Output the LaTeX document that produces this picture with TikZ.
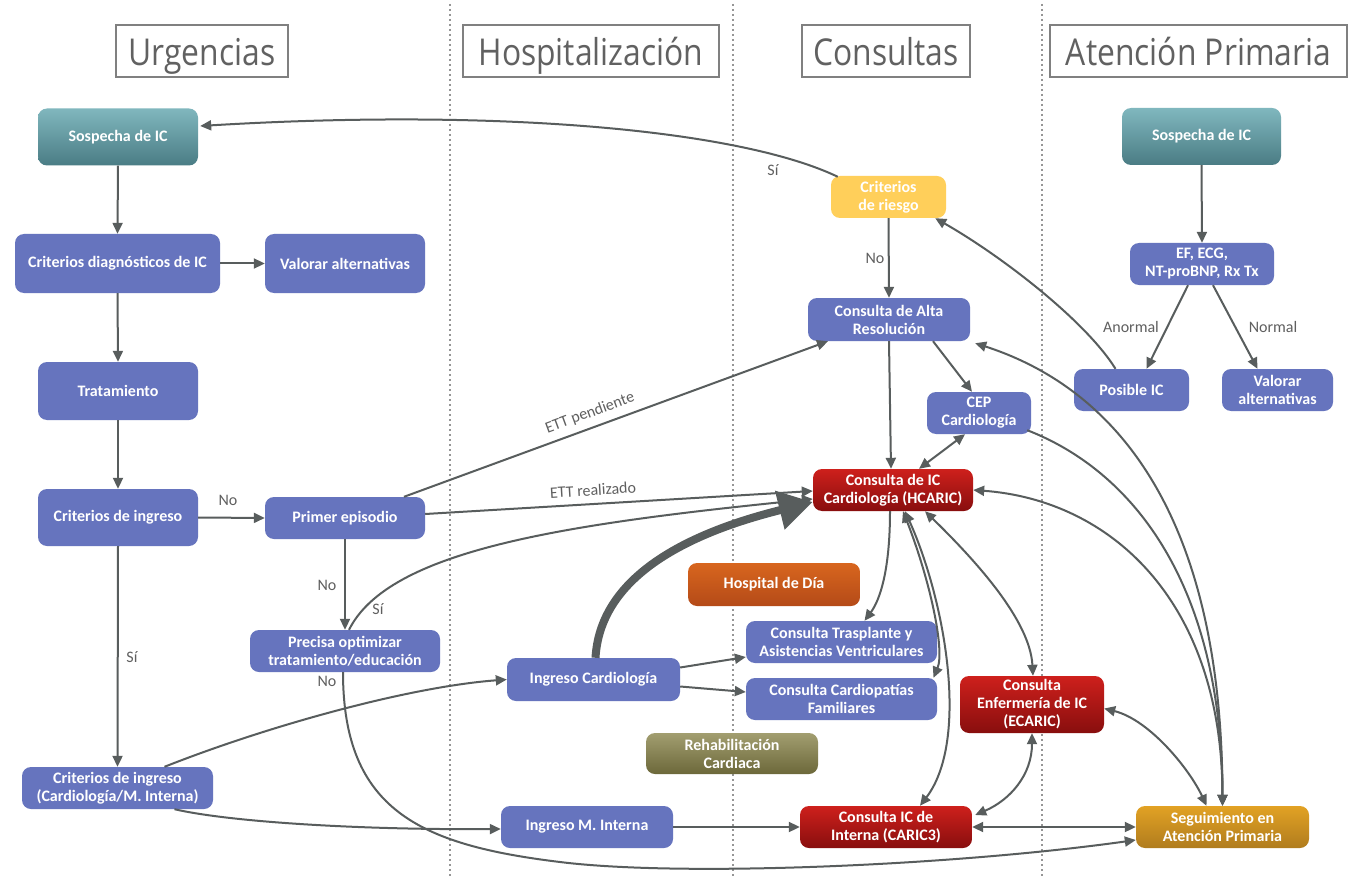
\documentclass[tikz,border=0pt]{standalone}
\usepackage{fontspec}
\setmainfont{Carlito}
\newfontfamily\hdrfont[FakeStretch=0.86]{Open Sans}
\usetikzlibrary{arrows.meta,calc}
\definecolor{nblue}{RGB}{102,116,190}
\definecolor{cgray}{RGB}{88,93,93}
\definecolor{lgray}{RGB}{95,95,95}
\definecolor{tealT}{RGB}{128,183,190}
\definecolor{tealB}{RGB}{74,124,132}
\definecolor{redT}{RGB}{206,32,28}
\definecolor{redB}{RGB}{136,14,14}
\definecolor{oraT}{RGB}{216,102,30}
\definecolor{oraB}{RGB}{180,74,24}
\definecolor{oliT}{RGB}{162,158,112}
\definecolor{oliB}{RGB}{108,104,58}
\definecolor{yel}{RGB}{255,207,90}
\definecolor{golT}{RGB}{226,162,36}
\definecolor{golB}{RGB}{176,124,30}
\definecolor{hdrgray}{RGB}{128,128,128}
\definecolor{dotgray}{RGB}{150,150,150}
\tikzset{
  boxbase/.style={rounded corners=9pt, text=white, align=center, inner sep=2pt,
    font=\bfseries\fontsize{16}{18}\selectfont},
  bbox/.style={boxbase, fill=nblue},
  tbox/.style={boxbase, top color=tealT, bottom color=tealB},
  rbox/.style={boxbase, top color=redT, bottom color=redB},
  obox/.style={boxbase, top color=oraT, bottom color=oraB},
  olbox/.style={boxbase, top color=oliT, bottom color=oliB},
  ybox/.style={boxbase, fill=yel},
  gbox/.style={boxbase, top color=golT, bottom color=golB},
  hdr/.style={draw=hdrgray, line width=2.5pt, fill=white, text=black!62,
    font=\hdrfont\fontsize{37}{40}\selectfont, minimum height=52pt, inner sep=0pt,
    text height=32pt, text depth=2pt},
  arr/.style={draw=cgray, line width=2pt, -{Triangle[length=11pt,width=10pt]}},
  darr/.style={draw=cgray, line width=2pt, {Triangle[length=11pt,width=10pt]}-{Triangle[length=11pt,width=10pt]}},
  lbl/.style={text=lgray, font=\fontsize{16}{18}\selectfont, inner sep=1pt},
  sepline/.style={draw=dotgray, line width=1.6pt, dash pattern=on 1.6pt off 3.4pt}
}
\begin{document}
\begin{tikzpicture}[x=1pt,y=-1pt]
\useasboundingbox[fill=white] (0,0) rectangle (1370,877);
% lane separators
\draw[sepline] (450,4) -- (450,877);
\draw[sepline] (733,4) -- (733,877);
\draw[sepline] (1042,4) -- (1042,877);
% headers
\node[hdr, minimum width=172pt] (hurg) at (202,51) {Urgencias};
\node[hdr, minimum width=256pt] (hhosp) at (591,51) {Hospitalización};
\node[hdr, minimum width=168pt] (hcons) at (886,51) {Consultas};
\node[hdr, minimum width=297pt] (hap) at (1198.5,51) {Atención Primaria};
% Urgencias
\node[tbox, minimum width=160pt, minimum height=57pt] (sosp) at (118,137) {Sospecha de IC};
\node[bbox, minimum width=205pt, minimum height=59pt] (crit) at (117.5,263.5) {Criterios diagnósticos de IC};
\node[bbox, minimum width=160pt, minimum height=59pt] (valor) at (345,263.5) {Valorar alternativas};
\node[bbox, minimum width=160pt, minimum height=58pt] (trat) at (118,391) {Tratamiento};
\node[bbox, minimum width=160pt, minimum height=57pt] (ingr) at (118,517.5) {Criterios de ingreso};
\node[bbox, minimum width=160pt, minimum height=42pt] (primer) at (345,518) {Primer episodio};
\node[bbox, minimum width=190pt, minimum height=42pt] (precisa) at (345,651) {Precisa optimizar\\tratamiento/educación};
\node[bbox, minimum width=191pt, minimum height=42pt] (ingrCM) at (117.5,788) {Criterios de ingreso\\(Cardiología/M. Interna)};
% Hospitalizacion
\node[bbox, minimum width=173pt, minimum height=43pt] (ingrCard) at (593.5,679.5) {Ingreso Cardiología};
\node[bbox, minimum width=172pt, minimum height=42pt] (ingrMI) at (587,827) {Ingreso M. Interna};
\node[obox, minimum width=172pt, minimum height=43pt] (hdia) at (774,584.5) {Hospital de Día};
\node[olbox, minimum width=172pt, minimum height=41pt] (rehab) at (732,753.5) {Rehabilitación\\Cardiaca};
% Consultas
\node[bbox, minimum width=191pt, minimum height=42pt] (tras) at (841.5,642) {Consulta Trasplante y\\Asistencias Ventriculares};
\node[bbox, minimum width=191pt, minimum height=42pt] (card) at (841.5,699) {Consulta Cardiopatías\\Familiares};
\node[ybox, minimum width=115pt, minimum height=42pt] (riesgo) at (888.5,197) {Criterios\\de riesgo};
\node[bbox, minimum width=162pt, minimum height=43pt] (alta) at (889,319.5) {Consulta de Alta\\Resolución};
\node[bbox, minimum width=104pt, minimum height=42pt] (cep) at (979,413) {CEP\\Cardiología};
\node[rbox, minimum width=160pt, minimum height=42pt] (hcaric) at (893,490) {Consulta de IC\\Cardiología (HCARIC)};
\node[rbox, minimum width=144pt, minimum height=57pt] (ecaric) at (1032,704.5) {Consulta\\Enfermería de IC\\(ECARIC)};
\node[rbox, minimum width=172pt, minimum height=42pt] (caric3) at (886,827) {Consulta IC de\\Interna (CARIC3)};
% Atencion Primaria
\node[gbox, minimum width=173pt, minimum height=42pt] (seg) at (1222.5,827) {Seguimiento en\\Atención Primaria};
\node[tbox, minimum width=159pt, minimum height=57pt] (apsosp) at (1201.5,136.5) {Sospecha de IC};
\node[bbox, minimum width=144pt, minimum height=42pt] (ef) at (1202,264) {EF, ECG,\\NT-proBNP, Rx Tx};
\node[bbox, minimum width=115pt, minimum height=42pt] (posible) at (1131.5,390) {Posible IC};
\node[bbox, minimum width=111pt, minimum height=42pt] (valorAP) at (1277.5,390) {Valorar\\alternativas};
% Urgencias flow
\draw[arr] (sosp.south) -- (crit.north);
\draw[arr] (crit.east) -- (valor.west);
\draw[arr] (crit.south) -- (trat.north);
\draw[arr] (trat.south) -- (ingr.north);
\draw[arr] (ingr.east) -- (primer.west);
\draw[arr] (ingr.south) -- (ingrCM.north);
\draw[arr] (primer.south) -- (precisa.north);
\draw[arr] ($(primer.north)+(59,0)$) -- ($(alta.south)+(-61,0)$);
\node[lbl, rotate=20.2] (lettp) at (590,413) {ETT pendiente};
\draw[arr] ($(primer.east)+(0,-4)$) -- ($(hcaric.west)+(0,1)$);
\node[lbl, rotate=3.4] (lettr) at (593,490) {ETT realizado};
\draw[arr] ($(precisa.north)+(4,0)$) .. controls (389,550) and (563,524) .. ($(hcaric.west)+(0,9)$);
\draw[arr] ($(precisa.south)+(-2,0)$) .. controls (343,810) and (420,845) .. (560,862) .. controls (680,877) and (950,866) .. ($(seg.west)+(0,13)$);
\draw[arr] ($(ingrCM.north)+(47,0)$) .. controls (265,727) and (407,687) .. (ingrCard.west);
\draw[arr] ($(ingrCM.south)+(57,0)$) .. controls (230,822) and (360,830) .. ($(ingrMI.west)+(0,2)$);
% thick arrow
\draw[draw=cgray, line width=8pt, -{Triangle[length=34pt,width=38pt]}] ($(ingrCard.north)+(2,0)$) .. controls (600,580) and (680,535) .. ($(hcaric.west)+(0,12)$);
\draw[arr] ($(ingrCard.east)+(0,-12)$) -- ($(tras.west)+(0,15)$);
\draw[arr] ($(ingrCard.east)+(0,7)$) -- ($(card.west)+(0,-7)$);
\draw[arr] (ingrMI.east) -- (caric3.west);
% Consultas
\draw[arr] ($(riesgo.north west)+(7,1)$) .. controls (740,130) and (500,108) .. ($(sosp.east)+(2,-11)$);
\draw[arr] (riesgo.south) -- (alta.north);
\draw[arr] (alta.south) -- ($(hcaric.north)+(-2,0)$);
\draw[arr] ($(alta.south)+(44,0)$) -- ($(cep.north)+(-7,0)$);
\draw[darr] ($(cep.south)+(-14,0)$) -- ($(hcaric.north)+(26,0)$);
\draw[arr] ($(cep.south east)+(-4,-4)$) .. controls (1130,470) and (1222,580) .. (seg.north);
\draw[darr] ($(alta.south east)+(5,2)$) .. controls (1120,390) and (1222,520) .. (seg.north);
\draw[darr] (hcaric.east) .. controls (1110,500) and (1222,600) .. (seg.north);
\draw[arr] ($(hcaric.south)+(-3,0)$) .. controls (890,570) and (880,600) .. ($(tras.north)+(23,0)$);
\draw[darr] ($(hcaric.south)+(10,0)$) .. controls (930,580) and (945,650) .. ($(card.north)+(92,0)$);
\draw[darr] ($(hcaric.south)+(12,0)$) .. controls (945,600) and (970,740) .. ($(caric3.north)+(34,0)$);
\draw[darr] ($(hcaric.south)+(32,0)$) .. controls (975,560) and (1030,620) .. ($(ecaric.north)+(1,0)$);
\draw[darr] (ecaric.south) .. controls (1032,775) and (1010,800) .. ($(caric3.east)+(3,-12)$);
\draw[darr] ($(ecaric.east)+(0,4)$) .. controls (1150,720) and (1190,770) .. ($(seg.north)+(-16,0)$);
\draw[darr] (caric3.east) -- (seg.west);
% Atencion primaria
\draw[arr] (apsosp.south) -- (ef.north);
\draw[arr] ($(ef.south)+(-14,0)$) -- ($(posible.north)+(15,0)$);
\draw[arr] ($(ef.south)+(11,0)$) -- ($(valorAP.north)+(-20,0)$);
\draw[arr] ($(posible.north)+(-16,0)$) .. controls (1085,320) and (1000,255) .. ($(riesgo.south east)+(-11,0)$);
% labels
\node[lbl] (l1) at (228,500) {No};
\node[lbl] (l2) at (132,657) {Sí};
\node[lbl] (l3) at (327,585) {No};
\node[lbl] (l4) at (378,609) {Sí};
\node[lbl] (l5) at (327,681) {No};
\node[lbl] (l6) at (773,170) {Sí};
\node[lbl] (l7) at (875,258) {No};
\node[lbl] (l8) at (1131,327) {Anormal};
\node[lbl] (l9) at (1273,327) {Normal};
\end{tikzpicture}
\end{document}
